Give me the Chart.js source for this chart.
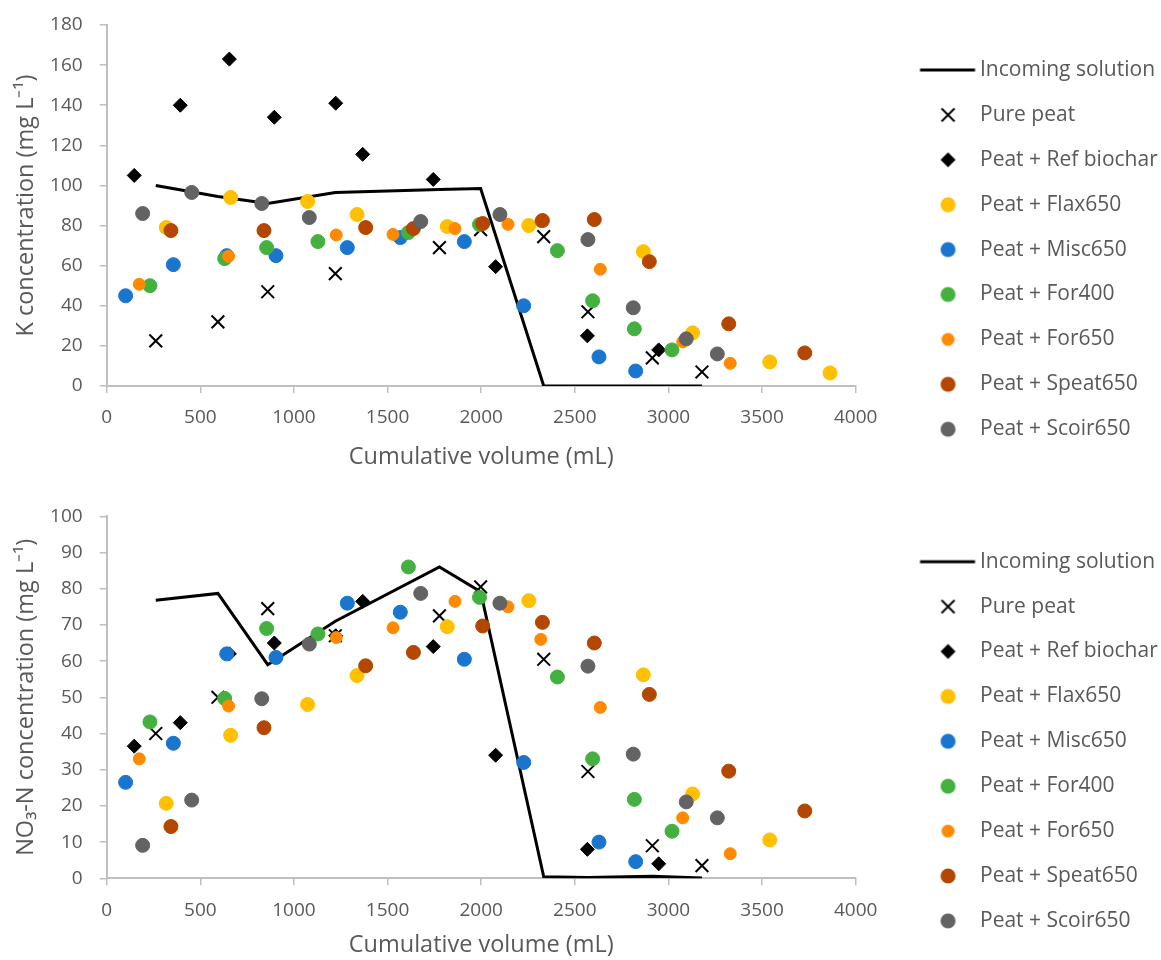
<!DOCTYPE html>
<html lang="en">

<head>
    <meta charset="UTF-8">
    <title>K and NO3-N in leachate</title>
    <script src="https://cdn.jsdelivr.net/npm/chart.js"></script>
    <style>
        body {
            margin: 0;
            background: #ffffff;
        }

        canvas {
            display: block;
        }
    </style>
</head>

<body>
    <canvas id="kChart" width="1161" height="480"></canvas>
    <canvas id="nChart" width="1161" height="480"></canvas>

    <script>
        // series names / colours (legend order)
        const seriesNames = ['Incoming solution', 'Pure peat', 'Peat + Ref biochar', 'Peat + Flax650',
            'Peat + Misc650', 'Peat + For400', 'Peat + For650', 'Peat + Speat650', 'Peat + Scoir650'];
        const seriesColors = ['#000000', '#000000', '#000000', '#FFC000', '#1A75CF', '#44B03F',
            '#FF8A00', '#B34700', '#636363'];

        // tick labels
        const volumeTicks = [0, 500, 1000, 1500, 2000, 2500, 3000, 3500, 4000];
        const kTicks = [0, 20, 40, 60, 80, 100, 120, 140, 160, 180];
        const nTicks = [0, 10, 20, 30, 40, 50, 60, 70, 80, 90, 100];

        // cumulative volume (mL) of each sample
        const inX = [262, 594, 860, 1221, 1777, 1997, 2334, 2570, 2914, 3179];
        const pureX = [262, 594, 860, 1221, 1777, 1997, 2334, 2570, 2914, 3179];
        const refX = [147, 393, 655, 895, 1223, 1367, 1744, 2077, 2567, 2948];
        const flaxX = [318, 662, 1073, 1337, 1819, 2254, 2866, 3129, 3541, 3863];
        const miscX = [101, 356, 641, 904, 1285, 1568, 1910, 2227, 2629, 2825];
        const for400X = [231, 630, 854, 1128, 1611, 1991, 2407, 2595, 2818, 3019];
        const for650X = [174, 651, 1226, 1529, 1860, 2143, 2318, 2636, 3076, 3330];
        const speatX = [343, 840, 1383, 1638, 2008, 2327, 2604, 2898, 3322, 3728];
        const scoirX = [192, 454, 828, 1082, 1677, 2100, 2570, 2812, 3095, 3261];

        // K concentration (mg/L)
        const inK = [100, 94.5, 91, 96.5, 98, 98.5, 0, 0, 0, 0];
        const pureK = [22.5, 32, 47, 56, 69, 78, 74.5, 37, 14, 7];
        const refK = [105, 140, 163, 134, 141, 115.5, 103, 59.5, 25, 18];
        const flaxK = [79, 94, 92, 85.5, 79.5, 80, 67, 26.5, 12, 6.5];
        const miscK = [45, 60.5, 65, 65, 69, 74, 72, 40, 14.5, 7.5];
        const for400K = [50, 63.5, 69, 72, 76.5, 80.5, 67.5, 42.5, 28.5, 18];
        const for650K = [50.7, 64.7, 75.3, 75.6, 78.5, 80.6, 82, 58.2, 22, 11.3];
        const speatK = [77.5, 77.5, 79, 78.5, 81, 82.5, 83, 62, 31, 16.5];
        const scoirK = [86, 96.5, 91, 84, 82, 85.5, 73, 39, 23.5, 16];

        // NO3-N concentration (mg/L)
        const inN = [76.8, 78.7, 59, 71, 86, 79.2, 0.4, 0.2, 0.6, 0.1];
        const pureN = [40, 50, 74.5, 67, 72.5, 80.5, 60.5, 29.5, 9, 3.5];
        const refN = [36.5, 43, 62, 65, 67, 76.5, 64, 34, 8, 4];
        const flaxN = [20.7, 39.5, 48, 56, 69.5, 76.7, 56.2, 23.3, 10.6, null];
        const miscN = [26.5, 37.3, 62, 61, 76, 73.5, 60.5, 32, 10, 4.6];
        const for400N = [43.2, 49.7, 69, 67.5, 86, 77.6, 55.6, 33, 21.8, 13];
        const for650N = [33, 47.6, 66.5, 69.2, 76.5, 75, 66, 47.2, 16.7, 6.8];
        const speatN = [14.3, 41.6, 58.7, 62.4, 69.7, 70.7, 65, 50.8, 29.6, 18.6];
        const scoirN = [9.1, 21.6, 49.6, 64.7, 78.7, 76, 58.6, 34.3, 21.1, 16.7];

        const xSets = [inX, pureX, refX, flaxX, miscX, for400X, for650X, speatX, scoirX];

        const FONT = '"Open Sans", sans-serif';
        const GREY_TEXT = '#595959';
        const AXIS_GREY = '#BFBFBF';
        Chart.defaults.font.family = FONT;

        function pts(xs, ys) {
            const out = [];
            xs.forEach((x, i) => {
                if (ys[i] !== null) out.push({ x: x, y: ys[i] });
            });
            return out;
        }

        function makeDatasets(ySets) {
            return ySets.map((ys, i) => {
                const c = seriesColors[i];
                // later series on top, like the original
                const ds = { label: seriesNames[i], data: pts(xSets[i], ys), order: ySets.length - i };
                if (i === 0) {
                    Object.assign(ds, {
                        type: 'line', showLine: true, borderColor: c, borderWidth: 3,
                        pointRadius: 0, pointHoverRadius: 0, tension: 0, fill: false
                    });
                } else if (i === 1) {
                    Object.assign(ds, {
                        pointStyle: 'crossRot', pointRadius: 9, pointHoverRadius: 9,
                        pointBorderColor: c, pointBackgroundColor: c, pointBorderWidth: 2,
                        borderColor: c, backgroundColor: c
                    });
                } else if (i === 2) {
                    Object.assign(ds, {
                        pointStyle: 'rectRot', pointRadius: 7, pointHoverRadius: 7,
                        pointBorderColor: c, pointBackgroundColor: c, pointBorderWidth: 1,
                        borderColor: c, backgroundColor: c
                    });
                } else {
                    const r = i === 6 ? 6 : 7;
                    Object.assign(ds, {
                        pointStyle: 'circle', pointRadius: r, pointHoverRadius: r,
                        pointBorderColor: c, pointBackgroundColor: c, pointBorderWidth: 1,
                        borderColor: c, backgroundColor: c
                    });
                }
                return ds;
            });
        }

        // legend markers: line / cross / diamond / dot, drawn right of the box centre
        function legendIcon(i) {
            const cv = document.createElement('canvas');
            cv.width = 104;
            cv.height = 24;
            const g = cv.getContext('2d');
            const mx = 75.5, my = 12;
            g.fillStyle = seriesColors[i];
            g.strokeStyle = seriesColors[i];
            g.beginPath();
            if (i === 0) {
                g.lineWidth = 3;
                g.moveTo(47.5, my);
                g.lineTo(102.5, my);
                g.stroke();
            } else if (i === 1) {
                g.lineWidth = 2;
                g.moveTo(mx - 6.5, my - 6.5);
                g.lineTo(mx + 6.5, my + 6.5);
                g.moveTo(mx + 6.5, my - 6.5);
                g.lineTo(mx - 6.5, my + 6.5);
                g.stroke();
            } else if (i === 2) {
                g.moveTo(mx - 7.5, my);
                g.lineTo(mx, my - 7.5);
                g.lineTo(mx + 7.5, my);
                g.lineTo(mx, my + 7.5);
                g.closePath();
                g.fill();
            } else {
                g.arc(mx, my, i === 6 ? 6.5 : 7.5, 0, Math.PI * 2);
                g.fill();
            }
            return cv;
        }
        const legendIcons = seriesNames.map((n, i) => legendIcon(i));

        const LEG_FONT = 21;
        const LEG_PAD = 23.9;
        const LEG_BOX = 89.9;
        const PLOT_RIGHT = 855.7;
        const TITLE_FONT = 23.5;

        function buildChart(id, yTitle, yTicks, ySets, cfg) {
            const ctx = document.getElementById(id).getContext('2d');
            const chart = new Chart(ctx, {
                type: 'scatter',
                data: { datasets: makeDatasets(ySets) },
                options: {
                    responsive: false,
                    animation: false,
                    events: [],
                    layout: { padding: { top: cfg.padTop, bottom: cfg.padBottom, left: 0, right: 0 } },
                    scales: {
                        x: {
                            type: 'linear',
                            min: volumeTicks[0],
                            max: volumeTicks[volumeTicks.length - 1],
                            ticks: {
                                stepSize: volumeTicks[1] - volumeTicks[0],
                                color: GREY_TEXT,
                                font: { size: 19 },
                                padding: 13.6,
                                maxRotation: 0,
                                callback: v => String(v)
                            },
                            grid: { drawOnChartArea: false, drawTicks: true, tickLength: 7, color: AXIS_GREY, lineWidth: 1.5 },
                            border: { color: AXIS_GREY, width: 2 },
                            title: {
                                display: true, text: 'Cumulative volume (mL)', color: GREY_TEXT,
                                font: { size: TITLE_FONT }, padding: { top: cfg.xTitlePad, bottom: 0 }
                            }
                        },
                        y: {
                            min: yTicks[0],
                            max: yTicks[yTicks.length - 1],
                            afterFit: s => { s.width = 106.7; },
                            ticks: {
                                stepSize: yTicks[1] - yTicks[0],
                                color: GREY_TEXT,
                                // small line height so the top label does not push the plot down
                                font: { size: 19, lineHeight: 0.6 },
                                padding: 17,
                                callback: v => String(v)
                            },
                            grid: { drawOnChartArea: false, drawTicks: true, tickLength: 7, color: AXIS_GREY, lineWidth: 1.5 },
                            border: { color: AXIS_GREY, width: 2 },
                            title: {
                                display: true, text: yTitle, color: GREY_TEXT,
                                font: { size: TITLE_FONT }, padding: { top: 11.9, bottom: 0 }
                            }
                        }
                    },
                    plugins: {
                        tooltip: { enabled: false },
                        legend: {
                            position: 'right',
                            align: 'start',
                            title: { display: true, text: '', font: { size: 1 }, padding: { top: cfg.legendOffset, bottom: 0 } },
                            labels: {
                                usePointStyle: true,
                                pointStyleWidth: LEG_BOX,
                                padding: LEG_PAD,
                                color: GREY_TEXT,
                                font: { size: LEG_FONT },
                                generateLabels: chart => {
                                    const items = Chart.defaults.plugins.legend.labels.generateLabels(chart);
                                    items.sort((a, b) => a.datasetIndex - b.datasetIndex);
                                    items.forEach(it => {
                                        it.pointStyle = legendIcons[it.datasetIndex];
                                        it.rotation = 0;
                                        it.fontColor = GREY_TEXT;
                                    });
                                    return items;
                                }
                            }
                        }
                    }
                }
            });

            // legend takes a fixed strip so the plot ends at the same x in both panels
            const baseFit = chart.legend.fit;
            chart.legend.fit = function () {
                baseFit.call(this);
                this.width = 1161 - PLOT_RIGHT;
            };
            chart.update();
            return chart;
        }

        buildChart('kChart', 'K concentration (mg L\u207B\u00B9)', kTicks,
            [inK, pureK, refK, flaxK, miscK, for400K, for650K, speatK, scoirK],
            { padTop: 25, padBottom: 8.8, xTitlePad: 0, legendOffset: 9.4 });

        buildChart('nChart', 'NO\u2083-N concentration (mg L\u207B\u00B9)', nTicks,
            [inN, pureN, refN, flaxN, miscN, for400N, for650N, speatN, scoirN],
            { padTop: 36.3, padBottom: 0.9, xTitlePad: -4.4, legendOffset: 9.8 });
    </script>
</body>

</html>
